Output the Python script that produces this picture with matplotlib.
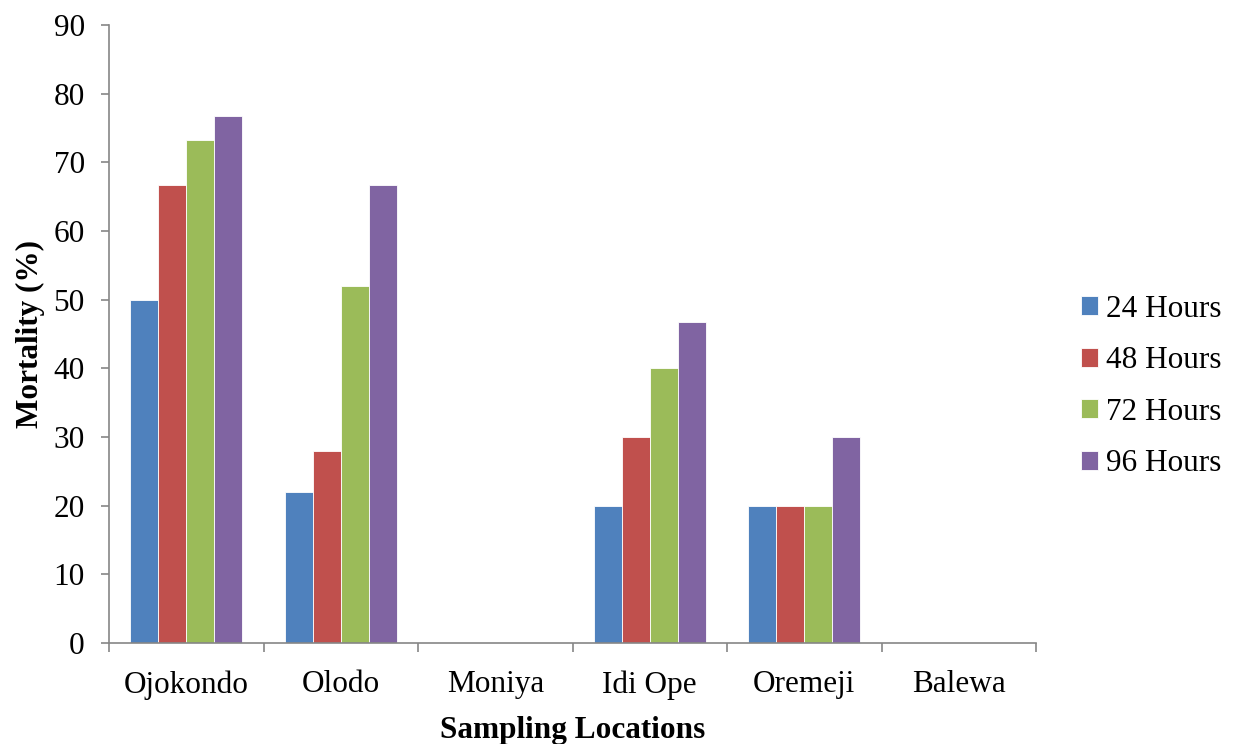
import matplotlib
matplotlib.use("Agg")
import matplotlib.pyplot as plt
import numpy as np

categories = ["Ojokondo", "Olodo", "Moniya", "Idi Ope", "Oremeji", "Balewa"]
series_names = ["24 Hours", "48 Hours", "72 Hours", "96 Hours"]
h24 = [50, 22, 0, 20, 20, 0]
h48 = [66.7, 28, 0, 30, 20, 0]
h72 = [73.3, 52, 0, 40, 20, 0]
h96 = [76.7, 66.7, 0, 46.7, 30, 0]
colors = ["#4F81BD", "#C0504D", "#9BBB59", "#8064A2"]

plt.rcParams['font.family'] = ['Liberation Serif', 'DejaVu Serif']
FS = 22.5

fig = plt.figure(figsize=(12.39, 7.44), dpi=100)
ax = fig.add_axes([109/1239, 101/744, (1036-109)/1239, (643-25)/744])

x = np.arange(len(categories))
w = 0.181
series = [h24, h48, h72, h96]
for i, (vals, name, c) in enumerate(zip(series, series_names, colors)):
    ax.bar(x + (i - 1.5) * w, vals, width=w, color=c, edgecolor="white",
           linewidth=0.6, label=name, zorder=2)

ax.set_xlim(-0.5, len(categories) - 0.5)
ax.set_ylim(0, 90)
ax.set_yticks(np.arange(0, 91, 10))
ax.set_xticks(x)
ax.set_xticklabels(categories)
ax.set_xticks(np.arange(-0.5, len(categories), 1), minor=True)

for s in ["top", "right"]:
    ax.spines[s].set_visible(False)
for s in ["left", "bottom"]:
    ax.spines[s].set_color("#868686")
    ax.spines[s].set_linewidth(1.2)

ax.tick_params(axis="x", which="major", length=0, pad=19.5, labelsize=FS)
ax.tick_params(axis="x", which="minor", length=6.5, color="#868686", width=1.2, direction="out")
ax.tick_params(axis="y", length=5.5, color="#868686", width=1.2, direction="out", labelsize=FS, pad=12)

ax.set_xlabel("Sampling Locations", fontsize=FS, fontweight="bold", labelpad=12)
ax.set_ylabel("Mortality (%)", fontsize=FS, fontweight="bold", labelpad=6)

leg = ax.legend(loc="center left", bbox_to_anchor=(1.025, 0.415), frameon=False,
                fontsize=FS, handlelength=0.55, handleheight=0.55, handletextpad=0.25,
                labelspacing=0.72, borderaxespad=0.3)

fig.savefig("out.png", dpi=100)
